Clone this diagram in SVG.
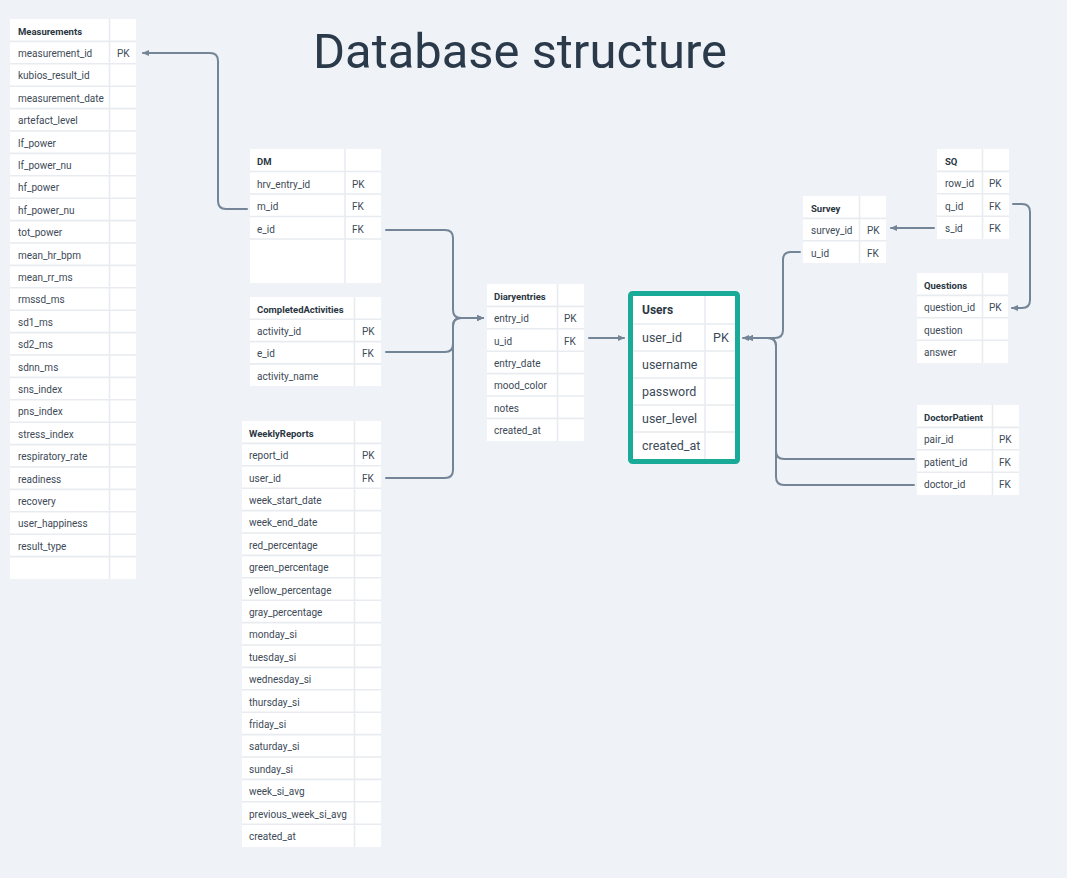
<svg xmlns="http://www.w3.org/2000/svg" width="1067" height="878" viewBox="0 0 1067 878">
<style>
.tb{fill:#ffffff}
.gl{stroke:#e8ecf0;stroke-width:1.6;fill:none}
.h{font-family:Roboto,"Liberation Sans",sans-serif;font-size:9.5px;font-weight:700;fill:#2a3642;transform:translate(0px,1.5px)}
.r{font-family:Roboto,"Liberation Sans",sans-serif;font-size:10px;fill:#3d4a57;transform:translate(0px,1.5px)}
.u{font-family:Roboto,"Liberation Sans",sans-serif;font-size:12.5px;fill:#3d4a57}
.uh{font-family:Roboto,"Liberation Sans",sans-serif;font-size:12px;font-weight:700;fill:#2a3642}
.c{stroke:#748597;stroke-width:2;fill:none;stroke-linecap:round}
.t{font-family:Roboto,"Open Sans",sans-serif;font-size:48px;fill:#2b3a4a}
</style>
<defs>
<pattern id="dots" width="16" height="16" patternUnits="userSpaceOnUse">
<rect x="7.5" y="7.5" width="1" height="1" fill="#e1e6eb"/>
</pattern>
<marker id="ah" viewBox="0 0 8 8" refX="7" refY="4" markerWidth="7" markerHeight="7" markerUnits="userSpaceOnUse" orient="auto">
<path d="M0,0.5 L8,4 L0,7.5 Z" fill="#748597"/>
</marker>
</defs>
<rect width="1067" height="878" fill="#eff2f6"/>
<rect width="1067" height="878" fill="url(#dots)"/>
<text class="t" x="520" y="68" text-anchor="middle" textLength="414" lengthAdjust="spacingAndGlyphs">Database structure</text>

<g id="connectors">
<path class="c" d="M247 209 H226 Q218 209 218 201 V61 Q218 53 210 53 H143" marker-end="url(#ah)"/>
<path class="c" d="M386 230 H445 Q453 230 453 238 V310 Q453 318 461 318 H483" marker-end="url(#ah)"/>
<path class="c" d="M386 352 H445 Q453 352 453 344 V326 Q453 318 461 318 H483" marker-end="url(#ah)"/>
<path class="c" d="M386 478 H445 Q453 478 453 470 V326 Q453 318 461 318 H483" marker-end="url(#ah)"/>
<path class="c" d="M589 338 H624" marker-end="url(#ah)"/>
<path class="c" d="M800 252 H791 Q783 252 783 260 V330 Q783 338 775 338 H743" marker-end="url(#ah)"/>
<path class="c" d="M914 459 H784 Q776 459 776 451 V346 Q776 338 768 338 H747" marker-end="url(#ah)"/>
<path class="c" d="M914 485 H784 Q776 485 776 477 V346 Q776 338 768 338 H747" marker-end="url(#ah)"/>
<path class="c" d="M934 228 H891" marker-end="url(#ah)"/>
<path class="c" d="M1013 204 H1022 Q1030 204 1030 212 V300 Q1030 308 1022 308 H1012" marker-end="url(#ah)"/>
</g>

<g id="measurements">
<rect class="tb" x="10" y="19" width="126" height="560"/>
<path class="gl" d="M10 41.4H136M10 63.8H136M10 86.2H136M10 108.6H136M10 131H136M10 153.4H136M10 175.8H136M10 198.2H136M10 220.6H136M10 243H136M10 265.4H136M10 287.8H136M10 310.2H136M10 332.6H136M10 355H136M10 377.4H136M10 399.8H136M10 422.2H136M10 444.6H136M10 467H136M10 489.4H136M10 511.8H136M10 534.2H136M10 556.6H136M109.5 19V579"/>
<text class="h" x="18" y="33.5">Measurements</text>
<text class="r" x="18" y="55.4">measurement_id</text><text class="r" x="117" y="55.4">PK</text>
<text class="r" x="18" y="77.8">kubios_result_id</text>
<text class="r" x="18" y="100.2">measurement_date</text>
<text class="r" x="18" y="122.6">artefact_level</text>
<text class="r" x="18" y="145">lf_power</text>
<text class="r" x="18" y="167.4">lf_power_nu</text>
<text class="r" x="18" y="189.8">hf_power</text>
<text class="r" x="18" y="212.2">hf_power_nu</text>
<text class="r" x="18" y="234.6">tot_power</text>
<text class="r" x="18" y="257">mean_hr_bpm</text>
<text class="r" x="18" y="279.4">mean_rr_ms</text>
<text class="r" x="18" y="301.8">rmssd_ms</text>
<text class="r" x="18" y="324.2">sd1_ms</text>
<text class="r" x="18" y="346.6">sd2_ms</text>
<text class="r" x="18" y="369">sdnn_ms</text>
<text class="r" x="18" y="391.4">sns_index</text>
<text class="r" x="18" y="413.8">pns_index</text>
<text class="r" x="18" y="436.2">stress_index</text>
<text class="r" x="18" y="458.6">respiratory_rate</text>
<text class="r" x="18" y="481">readiness</text>
<text class="r" x="18" y="503.4">recovery</text>
<text class="r" x="18" y="525.8">user_happiness</text>
<text class="r" x="18" y="548.2">result_type</text>
</g>

<g id="dm">
<rect class="tb" x="250" y="149" width="131" height="134"/>
<path class="gl" d="M250 171.5H381M250 194H381M250 216.5H381M250 239H381M345 149V283"/>
<text class="h" x="257" y="163.5">DM</text>
<text class="r" x="257" y="186">hrv_entry_id</text><text class="r" x="352" y="186">PK</text>
<text class="r" x="257" y="208.5">m_id</text><text class="r" x="352" y="208.5">FK</text>
<text class="r" x="257" y="231">e_id</text><text class="r" x="352" y="231">FK</text>
</g>

<g id="completedactivities">
<rect class="tb" x="250" y="297" width="131" height="89"/>
<path class="gl" d="M250 319.3H381M250 341.6H381M250 363.9H381M354.5 297V386"/>
<text class="h" x="257" y="311.5">CompletedActivities</text>
<text class="r" x="257" y="333.5">activity_id</text><text class="r" x="362" y="333.5">PK</text>
<text class="r" x="257" y="355.8">e_id</text><text class="r" x="362" y="355.8">FK</text>
<text class="r" x="257" y="378.2">activity_name</text>
</g>

<g id="weeklyreports">
<rect class="tb" x="242" y="421" width="139" height="426"/>
<path class="gl" d="M242 443.4H381M242 465.8H381M242 488.2H381M242 510.6H381M242 533H381M242 555.4H381M242 577.8H381M242 600.2H381M242 622.6H381M242 645H381M242 667.4H381M242 689.8H381M242 712.2H381M242 734.6H381M242 757H381M242 779.4H381M242 801.8H381M242 824.2H381M354.5 421V847"/>
<text class="h" x="249" y="435.5">WeeklyReports</text>
<text class="r" x="249" y="457.6">report_id</text><text class="r" x="362" y="457.6">PK</text>
<text class="r" x="249" y="480">user_id</text><text class="r" x="362" y="480">FK</text>
<text class="r" x="249" y="502.4">week_start_date</text>
<text class="r" x="249" y="524.8">week_end_date</text>
<text class="r" x="249" y="547.2">red_percentage</text>
<text class="r" x="249" y="569.6">green_percentage</text>
<text class="r" x="249" y="592">yellow_percentage</text>
<text class="r" x="249" y="614.4">gray_percentage</text>
<text class="r" x="249" y="636.8">monday_si</text>
<text class="r" x="249" y="659.2">tuesday_si</text>
<text class="r" x="249" y="681.6">wednesday_si</text>
<text class="r" x="249" y="704">thursday_si</text>
<text class="r" x="249" y="726.4">friday_si</text>
<text class="r" x="249" y="748.8">saturday_si</text>
<text class="r" x="249" y="771.2">sunday_si</text>
<text class="r" x="249" y="793.6">week_si_avg</text>
<text class="r" x="249" y="816">previous_week_si_avg</text>
<text class="r" x="249" y="838.4">created_at</text>
</g>

<g id="diaryentries">
<rect class="tb" x="487" y="284" width="97" height="157"/>
<path class="gl" d="M487 306.4H584M487 328.8H584M487 351.2H584M487 373.6H584M487 396H584M487 418.4H584M557.5 284V441"/>
<text class="h" x="494" y="298.5">Diaryentries</text>
<text class="r" x="494" y="320.6">entry_id</text><text class="r" x="564" y="320.6">PK</text>
<text class="r" x="494" y="343">u_id</text><text class="r" x="564" y="343">FK</text>
<text class="r" x="494" y="365.4">entry_date</text>
<text class="r" x="494" y="387.8">mood_color</text>
<text class="r" x="494" y="410.2">notes</text>
<text class="r" x="494" y="432.6">created_at</text>
</g>

<g id="users">
<rect class="tb" x="632" y="295" width="106" height="166"/>
<path class="gl" d="M633 324H736M633 351H736M633 378H736M633 405H736M633 432H736M705 296V459"/>
<rect x="630.5" y="293.5" width="107" height="168" rx="2" fill="none" stroke="#1aab98" stroke-width="5"/>
<text class="uh" x="642" y="314.3">Users</text>
<text class="u" x="642" y="341.5">user_id</text><text class="u" x="713" y="341.5">PK</text>
<text class="u" x="642" y="368.5">username</text>
<text class="u" x="642" y="395.5">password</text>
<text class="u" x="642" y="422.5">user_level</text>
<text class="u" x="642" y="449.5">created_at</text>
</g>

<g id="survey">
<rect class="tb" x="803" y="196" width="83" height="67"/>
<path class="gl" d="M803 218.4H886M803 240.8H886M859.5 196V263"/>
<text class="h" x="811" y="210.5">Survey</text>
<text class="r" x="811" y="232.6">survey_id</text><text class="r" x="867" y="232.6">PK</text>
<text class="r" x="811" y="255">u_id</text><text class="r" x="867" y="255">FK</text>
</g>

<g id="sq">
<rect class="tb" x="937" y="149" width="72" height="90"/>
<path class="gl" d="M937 171.4H1009M937 193.8H1009M937 216.2H1009M982.5 149V239"/>
<text class="h" x="945" y="163.5">SQ</text>
<text class="r" x="945" y="185.6">row_id</text><text class="r" x="989" y="185.6">PK</text>
<text class="r" x="945" y="208">q_id</text><text class="r" x="989" y="208">FK</text>
<text class="r" x="945" y="230.4">s_id</text><text class="r" x="989" y="230.4">FK</text>
</g>

<g id="questions">
<rect class="tb" x="917" y="273" width="91" height="90"/>
<path class="gl" d="M917 295.4H1008M917 317.8H1008M917 340.2H1008M982.5 273V363"/>
<text class="h" x="924" y="287.5">Questions</text>
<text class="r" x="924" y="309.6">question_id</text><text class="r" x="989" y="309.6">PK</text>
<text class="r" x="924" y="332">question</text>
<text class="r" x="924" y="354.4">answer</text>
</g>

<g id="doctorpatient">
<rect class="tb" x="917" y="405" width="102" height="90"/>
<path class="gl" d="M917 427.4H1019M917 449.8H1019M917 472.2H1019M992.5 405V495"/>
<text class="h" x="924" y="419.5">DoctorPatient</text>
<text class="r" x="924" y="441.6">pair_id</text><text class="r" x="999" y="441.6">PK</text>
<text class="r" x="924" y="464">patient_id</text><text class="r" x="999" y="464">FK</text>
<text class="r" x="924" y="486.4">doctor_id</text><text class="r" x="999" y="486.4">FK</text>
</g>
</svg>
